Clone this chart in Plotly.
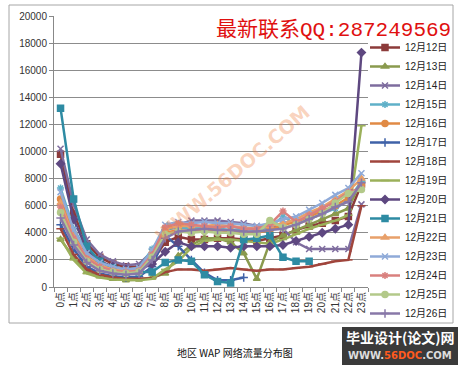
import plotly.graph_objects as go

hours = [f"{h}点" for h in range(24)]
series_names = [f"12月{d}日" for d in range(12, 27)]

d12 = [9800, 5400, 3200, 2200, 1700, 1500, 1500, 1900, 3300, 3700, 3500, 3500, 3600, 3600, 3500, 3400, 3600, 3800, 4200, 4500, 4700, 4900, 5200, 7600]
d13 = [3500, 2200, 1100, 800, 600, 500, 550, 700, 1000, 2300, 3100, 3600, 3600, 3300, 2500, 600, 3300, 3800, 4200, 4600, 5000, 5400, 5800, 7900]
d14 = [10200, 6100, 3500, 2400, 1900, 1600, 1700, 2600, 4300, 4600, 4900, 4900, 4900, 4800, 4700, 4500, 4500, 4300, 3300, 2800, 2800, 2800, 2800, 6100]
d15 = [7300, 4300, 2600, 1800, 1500, 1300, 1400, 2800, 4200, 4400, 4300, 4400, 4300, 4200, 4300, 4200, 4400, 5200, 4600, 5000, 5400, 5800, 6400, 7800]
d16 = [6500, 3900, 2300, 1600, 1300, 1100, 1200, 2300, 4000, 4200, 4100, 4200, 4200, 4100, 4100, 4000, 4200, 4600, 4800, 5200, 5600, 6000, 6600, 7500]
d17 = [4600, 2800, 1500, 1000, 800, 700, 750, 1500, 3800, 3000, 2000, 1050, 500, 500, 700, None, None, None, None, None, None, None, None, None]
d18 = [4300, 2400, 1300, 900, 700, 600, 600, 650, 1100, 1300, 1300, 1200, 1300, 1400, 1300, 1200, 1300, 1300, 1400, 1500, 1700, 1900, 2000, 6000]
d19 = [3600, 2000, 1000, 700, 550, 500, 500, 600, 1300, 1900, 2900, 3400, 3500, 3500, 3400, 3300, 3200, 3500, 3900, 4300, 4600, 4900, 5300, 11900]
d20 = [9100, 5000, 2800, 1900, 1500, 1300, 1300, 1700, 2600, 3300, 3000, 3000, 3000, 2900, 3000, 3000, 3000, 3100, 3400, 3700, 4000, 4300, 4600, 17300]
d21 = [13200, 6500, 3000, 1900, 1400, 1100, 1100, 1100, 1800, 2000, 1900, 900, 400, 300, 3500, 3600, 3800, 2200, 1900, 1900, None, None, None, None]
d22 = [6200, 3700, 2200, 1600, 1300, 1200, 1300, 2600, 4300, 4500, 4500, 4500, 4600, 4500, 4400, 4300, 4500, 4700, 5000, 5500, 5900, 6500, 7100, 8000]
d23 = [7000, 4200, 2500, 1800, 1500, 1300, 1400, 2700, 4600, 4800, 4700, 4800, 4700, 4700, 4600, 4500, 4700, 5000, 5200, 5700, 6200, 6800, 7300, 8400]
d24 = [5900, 3600, 2100, 1500, 1200, 1100, 1200, 2400, 4400, 4700, 4600, 4500, 4400, 4500, 4300, 4300, 4600, 5600, 4800, 5300, 5800, 6300, 7000, 7300]
d25 = [5500, 3300, 1900, 1300, 1100, 1000, 1100, 2200, 3900, 4100, 4000, 4100, 4000, 4000, 3900, 3900, 4900, 4400, 4600, 5000, 5400, 6200, 6900, 7200]
d26 = [5100, 3100, 1800, 1200, 1000, 900, 1000, 2000, 3600, 4100, 4200, 4300, 4200, 4200, 4100, 4100, 4200, 4300, 4600, 5000, 5400, 5900, 6300, 7700]

all_data = [d12, d13, d14, d15, d16, d17, d18, d19, d20, d21, d22, d23, d24, d25, d26]
colors = ["#8C3B3A", "#8A9A4E", "#7E6C9E", "#5FB0C8", "#E08A45", "#3F62A8", "#A0453C", "#9BB05A",
          "#5E4880", "#2E8BA3", "#E8A06A", "#8FAAD8", "#D9807E", "#B3C98A", "#8878A8"]
symbols = ["square", "triangle-up", "x-thin-open", "asterisk-open", "circle", "cross-thin-open",
           "line-ew-open", "line-ew-open", "diamond", "square", "triangle-up", "x-thin-open",
           "asterisk-open", "circle", "cross-thin-open"]

W, H = 466, 365
ML, MR, MT, MB = 54, 98, 16, 78
PW, PH = W - ML - MR, H - MT - MB

def px_x(p):
    return (p - ML) / PW

def px_y(p):
    return (H - MB - p) / PH

fig = go.Figure()
for name, vals, c, s in zip(series_names, all_data, colors, symbols):
    fig.add_trace(go.Scatter(
        x=hours, y=vals, name=name, mode="lines+markers",
        line=dict(color=c, width=2.5),
        marker=dict(symbol=s, size=6, color=c, line=dict(color=c, width=1.5)),
    ))

fig.update_layout(
    width=W, height=H,
    margin=dict(l=ML, r=MR, t=MT, b=MB, autoexpand=False),
    paper_bgcolor="white", plot_bgcolor="white",
    font=dict(family="Liberation Sans, Noto Sans CJK SC", size=10, color="#333333"),
    showlegend=True,
    legend=dict(xref="container", yref="container", x=365 / W, y=1 - 33 / H,
                xanchor="left", yanchor="top",
                font=dict(family="Liberation Sans, Noto Sans CJK SC", size=10, color="#222222"),
                bgcolor="rgba(0,0,0,0)", tracegroupgap=0),
    xaxis=dict(type="category", range=[-0.5, 23.5], tickmode="array", tickvals=hours, ticktext=hours,
               tickangle=-90, showgrid=False, showline=True,
               linecolor="#888888", linewidth=1, ticks="outside", ticklen=4,
               tickcolor="#888888", tickson="boundaries",
               tickfont=dict(size=10, color="#333333")),
    yaxis=dict(range=[0, 20000], dtick=2000, tickformat="d", showgrid=True, gridcolor="#8c8c8c",
               gridwidth=1, showline=True, linecolor="#888888", linewidth=1,
               ticks="outside", ticklen=4, tickcolor="#888888", zeroline=False,
               tickfont=dict(size=10, color="#333333")),
)
try:
    fig.update_layout(legend_maxheight=340)
except Exception:
    pass

shapes = [
    dict(type="rect", xref="paper", yref="paper", x0=px_x(9), x1=px_x(453), y0=px_y(323), y1=px_y(5),
         line=dict(color="#a6a6a6", width=1), fillcolor="rgba(0,0,0,0)", layer="below"),
]
fig.update_layout(shapes=shapes)

annotations = [
    dict(text="地区 WAP 网络流量分布图", x=px_x(235), y=px_y(352),
         font=dict(family="Noto Sans CJK SC", size=10, color="#111111")),
    dict(text="最新联系QQ:287249569", x=px_x(333), y=px_y(30),
         font=dict(family="Liberation Mono, Noto Sans CJK SC", size=21, color="#E01010")),
    dict(text="<b>WWW.56DOC.COM</b>", x=px_x(232), y=px_y(174), textangle=-41,
         font=dict(family="DejaVu Sans", size=19, color="rgba(240,130,70,0.35)")),
    dict(text=" ", x=px_x(400), y=px_y(346), width=116, height=38, bgcolor="#3a3a3a",
         borderpad=0, borderwidth=0, font=dict(size=10)),
    dict(text="<b>毕业设计(论文)网</b>", x=px_x(400), y=px_y(337),
         font=dict(family="Noto Sans CJK SC", size=14, color="white")),
    dict(text="<b>WWW.<span style='color:#ff5a1e'>56DOC</span>.COM</b>",
         x=px_x(400), y=px_y(356),
         font=dict(family="DejaVu Sans", size=10, color="#dddddd")),
]
for a in annotations:
    a.update(xref="paper", yref="paper", showarrow=False, xanchor="center", yanchor="middle")
fig.update_layout(annotations=annotations)

fig.write_html("out.html")
